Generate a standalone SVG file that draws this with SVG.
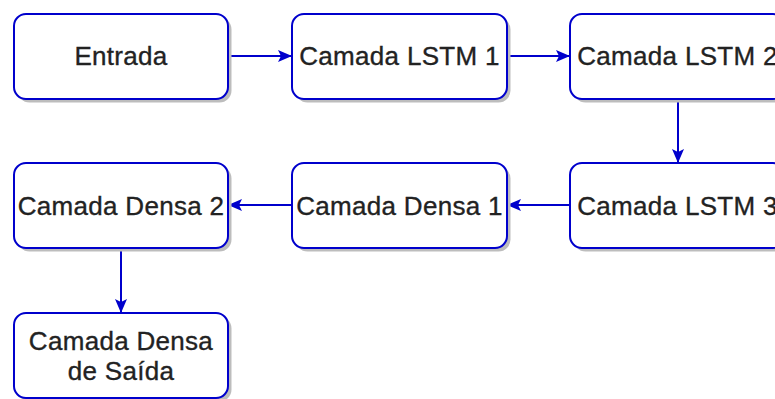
<svg xmlns="http://www.w3.org/2000/svg" width="775" height="399" viewBox="0 0 775 399">
<defs>
<style>
.box{fill:#fff;stroke:#0000cc;stroke-width:2}
.sh{fill:#bdbdbd}
.t{font-family:"Liberation Sans",Arial,sans-serif;font-size:26px;fill:#222;stroke:#222;stroke-width:0.35;text-anchor:middle;letter-spacing:0.3px}
.c{stroke:#0000cc;stroke-width:2;fill:none}
</style>
<marker id="ah" viewBox="0 0 14 14" refX="13" refY="7" markerWidth="14" markerHeight="14" markerUnits="userSpaceOnUse" orient="auto">
<path d="M0,1 L14,7 L0,13 L3,7 Z" fill="#0000cc"/>
</marker>
</defs>
<rect width="775" height="399" fill="#fff"/>
<g id="connectors">
<line class="c" x1="228" y1="56" x2="291" y2="56" marker-end="url(#ah)"/>
<line class="c" x1="507" y1="56" x2="569" y2="56" marker-end="url(#ah)"/>
<line class="c" x1="678" y1="99" x2="678" y2="162" marker-end="url(#ah)"/>
<line class="c" x1="570" y1="205" x2="508" y2="205" marker-end="url(#ah)"/>
<line class="c" x1="292" y1="205" x2="229" y2="205" marker-end="url(#ah)"/>
<line class="c" x1="121" y1="248" x2="121" y2="312" marker-end="url(#ah)"/>
</g>
<g id="entrada">
<rect class="sh" x="17.5" y="17.5" width="214" height="85" rx="12"/>
<rect class="box" x="14" y="14" width="214" height="85" rx="12"/>
<text class="t" x="121" y="65">Entrada</text>
</g>
<g id="lstm1">
<rect class="sh" x="295.5" y="17.5" width="215" height="85" rx="12"/>
<rect class="box" x="292" y="14" width="215" height="85" rx="12"/>
<text class="t" x="399.5" y="65">Camada LSTM 1</text>
</g>
<g id="lstm2">
<rect class="sh" x="573.5" y="17.5" width="215" height="85" rx="12"/>
<rect class="box" x="570" y="14" width="215" height="85" rx="12"/>
<text class="t" x="677.5" y="65">Camada LSTM 2</text>
</g>
<g id="lstm3">
<rect class="sh" x="573.5" y="166.5" width="215" height="85" rx="12"/>
<rect class="box" x="570" y="163" width="215" height="85" rx="12"/>
<text class="t" x="677.5" y="215">Camada LSTM 3</text>
</g>
<g id="densa1">
<rect class="sh" x="295.5" y="166.5" width="215" height="85" rx="12"/>
<rect class="box" x="292" y="163" width="215" height="85" rx="12"/>
<text class="t" x="399.5" y="215">Camada Densa 1</text>
</g>
<g id="densa2">
<rect class="sh" x="17.5" y="166.5" width="214" height="85" rx="12"/>
<rect class="box" x="14" y="163" width="214" height="85" rx="12"/>
<text class="t" x="121" y="215">Camada Densa 2</text>
</g>
<g id="saida">
<rect class="sh" x="17.5" y="316.5" width="214" height="85" rx="12"/>
<rect class="box" x="14" y="313" width="214" height="85" rx="12"/>
<text class="t" x="121" y="350">Camada Densa</text>
<text class="t" x="121" y="380">de Saída</text>
</g>
</svg>
